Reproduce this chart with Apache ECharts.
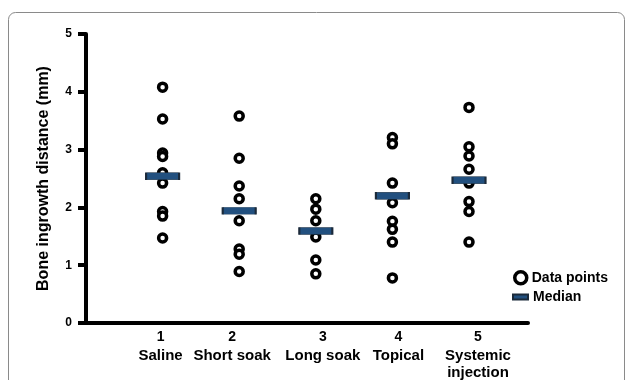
<!DOCTYPE html>
<html>
<head>
<meta charset="utf-8">
<script src="https://cdn.jsdelivr.net/npm/echarts@6/dist/echarts.min.js"></script>
<style>
  html, body { margin: 0; padding: 0; background: #fff; }
  #chart { width: 627px; height: 380px; }
</style>
</head>
<body>
<div id="chart"></div>
<script>
// groups on the x axis
var groupNums = ['1', '2', '3', '4', '5'];
var groupNames = [['Saline'], ['Short soak'], ['Long soak'], ['Topical'], ['Systemic', 'injection']];

// bone ingrowth distance (mm)
var saline = [4.08, 3.53, 2.94, 2.88, 2.60, 2.42, 1.93, 1.85, 1.47];
var shortSoak = [3.58, 2.85, 2.37, 2.15, 1.77, 1.28, 1.19, 0.89];
var longSoak = [2.15, 1.97, 1.77, 1.49, 1.09, 0.85];
var topical = [3.21, 3.10, 2.42, 2.08, 1.76, 1.62, 1.40, 0.78];
var systemic = [3.73, 3.05, 2.89, 2.66, 2.42, 2.10, 1.93, 1.40];
var medians = [2.54, 1.94, 1.59, 2.20, 2.47];

var yTicks = [0, 1, 2, 3, 4, 5];

// labels in the original sit a little off their columns (px)
var labelShift = [-2, -7, 7, 6, 9];

var groups = [saline, shortSoak, longSoak, topical, systemic];
var pointData = [];
groups.forEach(function(vals, i) {
    vals.forEach(function(v) {
        pointData.push([i + 1, v]);
    });
});
var medianData = medians.map(function(m, i) { return [i + 1, m]; });

var font = '"Liberation Sans", Arial, sans-serif';

var rich = {};
labelShift.forEach(function(s, i) {
    var pad = s > 0 ? [0, 0, 0, 2 * s] : [0, -2 * s, 0, 0];
    rich['n' + i] = {fontFamily: font, fontWeight: 'bold', fontSize: 14, lineHeight: 19, color: '#000', padding: pad};
    rich['c' + i] = {fontFamily: font, fontWeight: 'bold', fontSize: 15, lineHeight: 17, color: '#000', padding: pad};
});

var chart = echarts.init(document.getElementById('chart'), null, {renderer: 'canvas'});

var option = {
    animation: false,
    backgroundColor: '#fff',
    textStyle: {fontFamily: font},
    graphic: [{
        type: 'rect',
        shape: {x: 8.5, y: 12.5, width: 616, height: 420, r: 7},
        style: {fill: 'none', stroke: '#8a8a8a', lineWidth: 1},
        silent: true
    }],
    grid: {left: 86, right: 99, top: 34, bottom: 57},
    legend: [{
        orient: 'vertical',
        left: 508,
        top: 265,
        itemWidth: 12,
        itemHeight: 12,
        itemStyle: {borderWidth: 3.5},
        data: [{name: 'Data points', icon: 'circle'}],
        textStyle: {fontFamily: font, fontWeight: 'bold', fontSize: 14, color: '#000'}
    }, {
        orient: 'vertical',
        left: 507,
        top: 285,
        itemWidth: 15,
        itemHeight: 5,
        data: [{name: 'Median', icon: 'rect'}],
        textStyle: {fontFamily: font, fontWeight: 'bold', fontSize: 14, color: '#000'}
    }],
    xAxis: {
        type: 'value',
        min: 0,
        max: 5.77,
        splitLine: {show: false},
        axisLine: {lineStyle: {color: '#000', width: 4}},
        axisTick: {show: false},
        axisLabel: {
            customValues: [1, 2, 3, 4, 5],
            margin: 5,
            formatter: function(v) {
                var i = Math.round(v) - 1;
                var s = '{n' + i + '|' + groupNums[i] + '}';
                groupNames[i].forEach(function(t) { s += '\n{c' + i + '|' + t + '}'; });
                return s;
            },
            rich: rich
        }
    },
    yAxis: {
        type: 'value',
        min: yTicks[0],
        max: yTicks[yTicks.length - 1],
        interval: 1,
        name: 'Bone ingrowth distance (mm)',
        nameLocation: 'middle',
        nameGap: 34,
        nameTextStyle: {fontFamily: font, fontWeight: 'bold', fontSize: 16, color: '#000'},
        splitLine: {show: false},
        axisLine: {lineStyle: {color: '#000', width: 4}},
        axisTick: {length: 8, lineStyle: {color: '#000', width: 4}},
        axisLabel: {fontFamily: font, fontWeight: 'bold', fontSize: 12, color: '#000', margin: 14}
    },
    series: [{
        name: 'Data points',
        type: 'scatter',
        data: pointData,
        symbol: 'circle',
        symbolSize: 8,
        itemStyle: {color: '#fff', borderColor: '#000', borderWidth: 3.5, opacity: 1},
        z: 2
    }, {
        name: 'Median',
        type: 'scatter',
        data: medianData,
        symbol: 'rect',
        symbolSize: [33, 7],
        itemStyle: {color: '#22507f', borderColor: '#1b2a3a', borderWidth: 1, opacity: 1},
        z: 3
    }]
};
chart.setOption(option);
</script>
</body>
</html>
